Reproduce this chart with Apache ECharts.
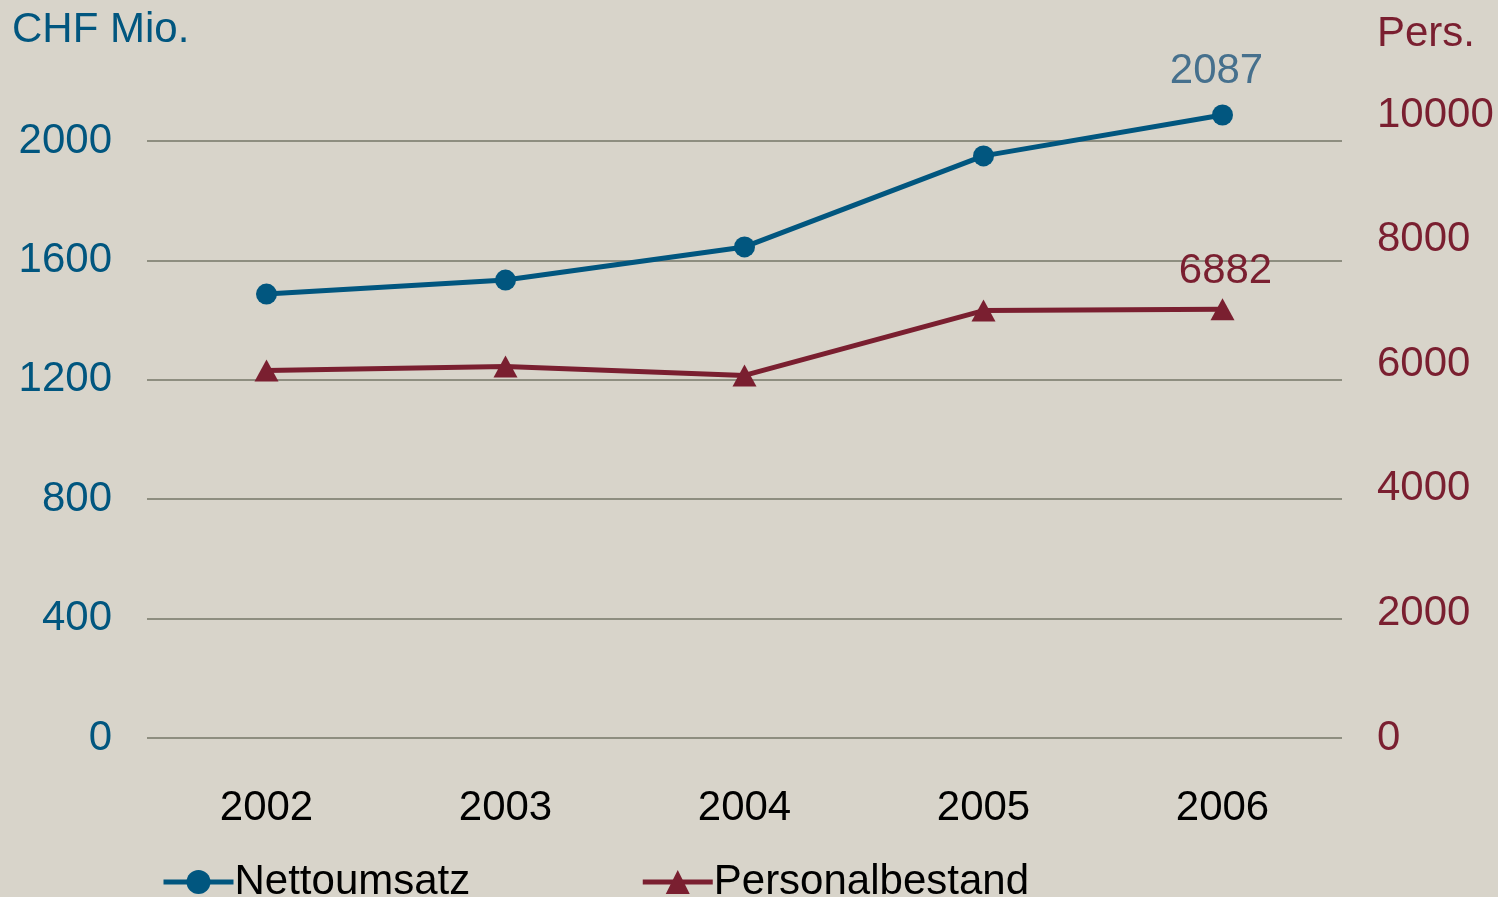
<!DOCTYPE html>
<html>
<head>
<meta charset="utf-8">
<style>
  html, body { margin: 0; padding: 0; background: #d8d4ca; }
  #chart { width: 1498px; height: 897px; }
</style>
<script src="https://cdn.jsdelivr.net/npm/echarts@6/dist/echarts.min.js"></script>
</head>
<body>
<div id="chart"></div>
<script>
// values
const years = ['2002', '2003', '2004', '2005', '2006'];
const nettoumsatz = [1487, 1534, 1645, 1950, 2087];
const personalbestand = [5900, 5965, 5820, 6860, 6882];

const BLUE = '#01567f';
const RED = '#7a1f30';
const GRID = '#8e8e80';
const FONT = 'Liberation Sans, Arial, sans-serif';

const chart = echarts.init(document.getElementById('chart'));

chart.setOption({
  backgroundColor: '#d8d4ca',
  textStyle: { fontFamily: FONT },
  animation: false,
  title: [{
    text: 'CHF Mio.',
    left: 12, top: 9, padding: 0,
    textStyle: { color: BLUE, fontSize: 42, fontWeight: 'normal', fontFamily: FONT }
  }, {
    text: 'Pers.',
    left: 1377, top: 13, padding: 0,
    textStyle: { color: RED, fontSize: 42, fontWeight: 'normal', fontFamily: FONT }
  }],
  grid: { left: 147, right: 156, top: 115, bottom: 159, containLabel: false, outerBoundsMode: 'none' },
  legend: {
    left: 156, top: 856,
    itemWidth: 70, itemHeight: 30, itemGap: 170,
    lineStyle: { width: 5 },
    textStyle: { color: '#000', fontSize: 42, fontFamily: FONT, padding: [0, 0, 0, -4] },
    data: ['Nettoumsatz', 'Personalbestand']
  },
  xAxis: {
    type: 'category',
    data: years,
    boundaryGap: true,
    axisLine: { show: false },
    axisTick: { show: false },
    axisLabel: { color: '#000', fontSize: 42, margin: 49, fontFamily: FONT }
  },
  yAxis: [{
    type: 'value',
    min: 0, max: 2087, interval: 400,
    axisLine: { show: false },
    axisTick: { show: false },
    axisLabel: {
      color: BLUE, fontSize: 42, margin: 35, showMaxLabel: false, fontFamily: FONT,
      formatter: v => String(v)
    },
    splitLine: {
      lineStyle: {
        color: [GRID, GRID, GRID, GRID, GRID, GRID, 'rgba(0,0,0,0)'],
        width: 2
      }
    }
  }, {
    type: 'value',
    min: 0, max: 10000, interval: 2000,
    axisLine: { show: false },
    axisTick: { show: false },
    axisLabel: {
      color: RED, fontSize: 42, margin: 35, fontFamily: FONT,
      formatter: v => String(v)
    },
    splitLine: { show: false }
  }],
  series: [{
    name: 'Nettoumsatz',
    type: 'line',
    yAxisIndex: 0,
    data: nettoumsatz,
    symbol: 'circle',
    symbolSize: 21,
    clip: false,
    itemStyle: { color: BLUE },
    lineStyle: { color: BLUE, width: 5 },
    label: {
      show: true,
      position: 'top',
      distance: 12,
      offset: [-6, 0],
      fontSize: 42,
      color: '#46708d',
      fontFamily: FONT,
      formatter: p => p.dataIndex === nettoumsatz.length - 1 ? String(p.value) : ''
    }
  }, {
    name: 'Personalbestand',
    type: 'line',
    yAxisIndex: 1,
    data: personalbestand,
    symbol: 'triangle',
    symbolSize: [24, 22],
    clip: false,
    itemStyle: { color: RED },
    lineStyle: { color: RED, width: 5 },
    label: {
      show: true,
      position: 'top',
      distance: 6,
      offset: [3, 0],
      fontSize: 42,
      color: RED,
      fontFamily: FONT,
      formatter: p => p.dataIndex === personalbestand.length - 1 ? String(p.value) : ''
    }
  }]
});
</script>
</body>
</html>
